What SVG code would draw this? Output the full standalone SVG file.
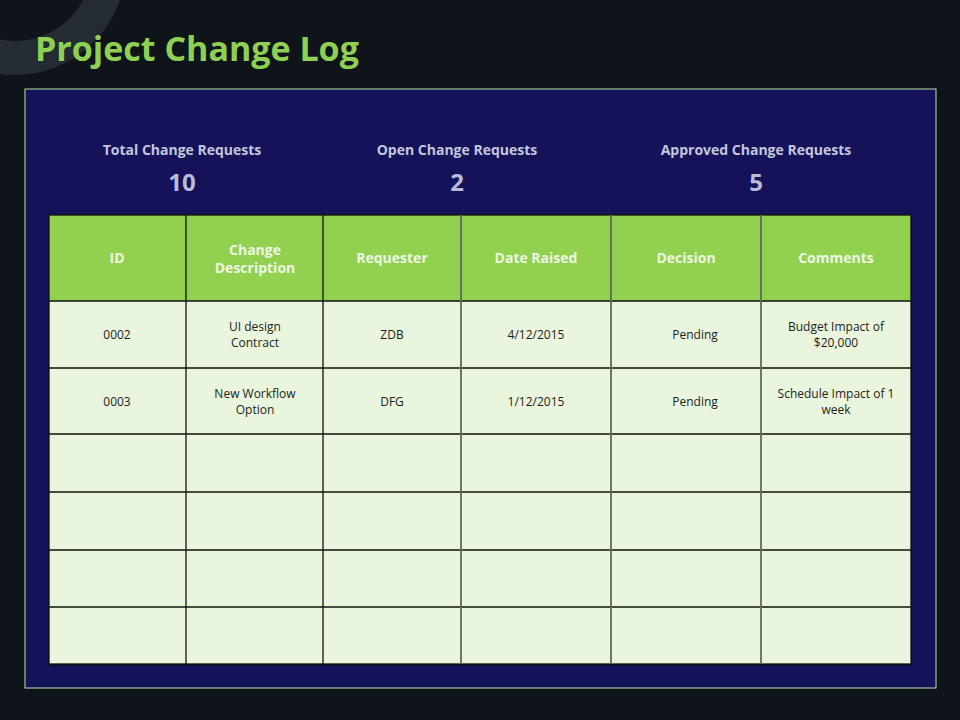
<svg xmlns="http://www.w3.org/2000/svg" width="960" height="720" viewBox="0 0 960 720">
<style>
.title{font-family:"Open Sans","Liberation Sans",sans-serif;font-weight:700;font-size:34px;fill:#8fd052}
.slabel{font-family:"Open Sans","Liberation Sans",sans-serif;font-weight:700;font-size:14px;fill:#c3c6dc;text-anchor:middle}
.snum{font-family:"Open Sans","Liberation Sans",sans-serif;font-weight:700;font-size:24px;fill:#b9bcd8;text-anchor:middle}
.hcell{fill:#92d050}
.bcell{fill:#e9f5dc}
.htxt{font-family:"Open Sans","Liberation Sans",sans-serif;font-weight:700;font-size:14px;fill:#eef6e4;text-anchor:middle}
.btxt{font-family:"Open Sans","Liberation Sans",sans-serif;font-size:12px;fill:#1e1e1e;text-anchor:middle}
.grid{stroke:#10130c;stroke-width:1.3;fill:none}
.grid2{stroke:#5f6a58;stroke-width:1.8;fill:none}
</style>
<rect width="960" height="720" fill="#0e141a"/>
<circle cx="15" cy="-36" r="94" fill="none" stroke="#252b32" stroke-width="34"/>
<text class="title" x="35" y="61">Project Change Log</text>
<rect id="panel" x="25" y="89" width="911" height="599" fill="#15125a" stroke="#b0e4a8" stroke-width="1"/>
<g id="stat-total">
<text class="slabel" x="182" y="155">Total Change Requests</text>
<text class="snum" x="182" y="191">10</text>
</g>
<g id="stat-open">
<text class="slabel" x="457" y="155">Open Change Requests</text>
<text class="snum" x="457" y="191">2</text>
</g>
<g id="stat-approved">
<text class="slabel" x="756" y="155">Approved Change Requests</text>
<text class="snum" x="756" y="191">5</text>
</g>
<g id="table">
<rect x="50" y="217" width="862" height="449" fill="#000" opacity="0.35"/>
<rect class="hcell" x="49" y="215" width="862" height="86"/>
<rect class="bcell" x="49" y="301" width="862" height="363"/>
<g id="header">
<text class="htxt" x="117" y="263">ID</text>
<text class="htxt" x="255" y="255">Change</text>
<text class="htxt" x="255" y="273">Description</text>
<text class="htxt" x="392" y="263">Requester</text>
<text class="htxt" x="536" y="263">Date Raised</text>
<text class="htxt" x="686" y="263">Decision</text>
<text class="htxt" x="836" y="263">Comments</text>
</g>
<g id="row1">
<text class="btxt" x="117" y="339">0002</text>
<text class="btxt" x="255" y="331">UI design</text>
<text class="btxt" x="255" y="347">Contract</text>
<text class="btxt" x="392" y="339">ZDB</text>
<text class="btxt" x="536" y="339">4/12/2015</text>
<text class="btxt" x="695" y="339">Pending</text>
<text class="btxt" x="836" y="331">Budget Impact of</text>
<text class="btxt" x="836" y="347">$20,000</text>
</g>
<g id="row2">
<text class="btxt" x="117" y="406">0003</text>
<text class="btxt" x="255" y="398">New Workflow</text>
<text class="btxt" x="255" y="414">Option</text>
<text class="btxt" x="392" y="406">DFG</text>
<text class="btxt" x="536" y="406">1/12/2015</text>
<text class="btxt" x="695" y="406">Pending</text>
<text class="btxt" x="836" y="398">Schedule Impact of 1</text>
<text class="btxt" x="836" y="414">week</text>
</g>
<g id="gridlines">
<rect class="grid" x="49" y="215" width="862" height="449"/>
<path class="grid" d="M49 301H911M49 368H911M49 434H911M49 492H911M49 550H911M49 607H911"/>
<path class="grid" d="M186 215V664M323 215V664"/>
<path class="grid2" d="M461 215V664M611 215V664M761 215V664"/>
</g>
</g>
</svg>
